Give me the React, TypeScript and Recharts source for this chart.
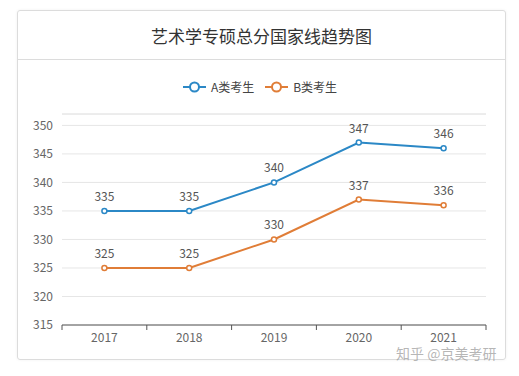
import { LineChart, Line, XAxis, YAxis, CartesianGrid, LabelList, ReferenceLine, Legend } from "recharts";

const years = ["2017", "2018", "2019", "2020", "2021"];
const scoresA = [335, 335, 340, 347, 346];
const scoresB = [325, 325, 330, 337, 336];
const yTicks = [315, 320, 325, 330, 335, 340, 345, 350];

const seriesA = { key: "a", name: "A类考生", color: "#2b88c6" };
const seriesB = { key: "b", name: "B类考生", color: "#e07d37" };

const data = years.map((year, i) => ({ year, a: scoresA[i], b: scoresB[i] }));

const font = "'Noto Sans CJK SC', 'Noto Sans', sans-serif";

function XTick(props: any) {
  const { x, y, payload, index } = props;
  const half = payload?.offset ?? 42.4;
  return (
    <g>
      <line x1={x - half} y1={y} x2={x - half} y2={y + 5} stroke="#555" />
      {index === years.length - 1 && <line x1={x + half} y1={y} x2={x + half} y2={y + 5} stroke="#555" />}
      <text x={x} y={y + 17} textAnchor="middle" fontSize={12} fill="#666" fontFamily={font}>
        {payload.value}
      </text>
    </g>
  );
}

function LegendContent() {
  return (
    <div style={{ display: "flex", justifyContent: "center", alignItems: "center", gap: 10, fontSize: 12, color: "#444", fontFamily: font }}>
      {[seriesA, seriesB].map((s) => (
        <div key={s.key} style={{ display: "flex", alignItems: "center", gap: 4 }}>
          <svg width={25} height={14}>
            <line x1={1} y1={7} x2={24} y2={7} stroke={s.color} strokeWidth={2} />
            <circle cx={12.5} cy={7} r={4.5} fill="#fff" stroke={s.color} strokeWidth={2} />
          </svg>
          <span>{s.name}</span>
        </div>
      ))}
    </div>
  );
}

export default function App() {
  return (
    <div style={{ position: "absolute", left: 0, top: 0, width: 519, height: 376, background: "#fff", fontFamily: font }}>
      <div
        style={{
          position: "absolute",
          left: 17,
          top: 10,
          width: 487,
          height: 348,
          border: "1px solid #dcdcdc",
          borderRadius: 3,
          boxShadow: "0 0 3px rgba(0,0,0,0.06)",
        }}
      >
        <div
          style={{
            height: 48,
            borderBottom: "1px solid #dcdcdc",
            display: "flex",
            alignItems: "center",
            justifyContent: "center",
            fontSize: 17,
            color: "#333",
          }}
        >
          艺术学专硕总分国家线趋势图
        </div>
      </div>
      <div style={{ position: "absolute", left: 0, top: 0 }}>
        <LineChart width={519} height={376} data={data} margin={{ top: 114, right: 33, bottom: 21, left: 12 }}>
          <CartesianGrid vertical={false} stroke="#e6e6e6" />
          <ReferenceLine y={352} stroke="#e6e6e6" />
          <XAxis
            dataKey="year"
            scale="band"
            height={30}
            tickSize={0}
            tickMargin={0}
            tickLine={false}
            axisLine={{ stroke: "#555" }}
            tick={<XTick />}
            interval={0}
          />
          <YAxis
            width={50}
            domain={[315, 352]}
            ticks={yTicks}
            interval={0}
            axisLine={false}
            tickLine={false}
            tickSize={0}
            tickMargin={9}
            tick={{ fontSize: 12, fill: "#666", fontFamily: font }}
          />
          <Legend layout="horizontal" verticalAlign="middle" content={<LegendContent />} wrapperStyle={{ top: 78, left: 0, width: 519 }} />
          <Line
            dataKey={seriesA.key}
            name={seriesA.name}
            stroke={seriesA.color}
            strokeWidth={2}
            dot={{ r: 2.5, fill: "#fff", stroke: seriesA.color, strokeWidth: 1.5 }}
            isAnimationActive={false}
          >
            <LabelList dataKey={seriesA.key} position="top" offset={10} fontSize={12} fill="#555" fontFamily={font} />
          </Line>
          <Line
            dataKey={seriesB.key}
            name={seriesB.name}
            stroke={seriesB.color}
            strokeWidth={2}
            dot={{ r: 2.5, fill: "#fff", stroke: seriesB.color, strokeWidth: 1.5 }}
            isAnimationActive={false}
          >
            <LabelList dataKey={seriesB.key} position="top" offset={10} fontSize={12} fill="#555" fontFamily={font} />
          </Line>
        </LineChart>
      </div>
      <div
        style={{
          position: "absolute",
          left: 396,
          top: 346,
          fontSize: 14,
          lineHeight: "14px",
          color: "rgba(150,150,150,0.7)",
          whiteSpace: "nowrap",
        }}
      >
        知乎 @京美考研
      </div>
    </div>
  );
}
